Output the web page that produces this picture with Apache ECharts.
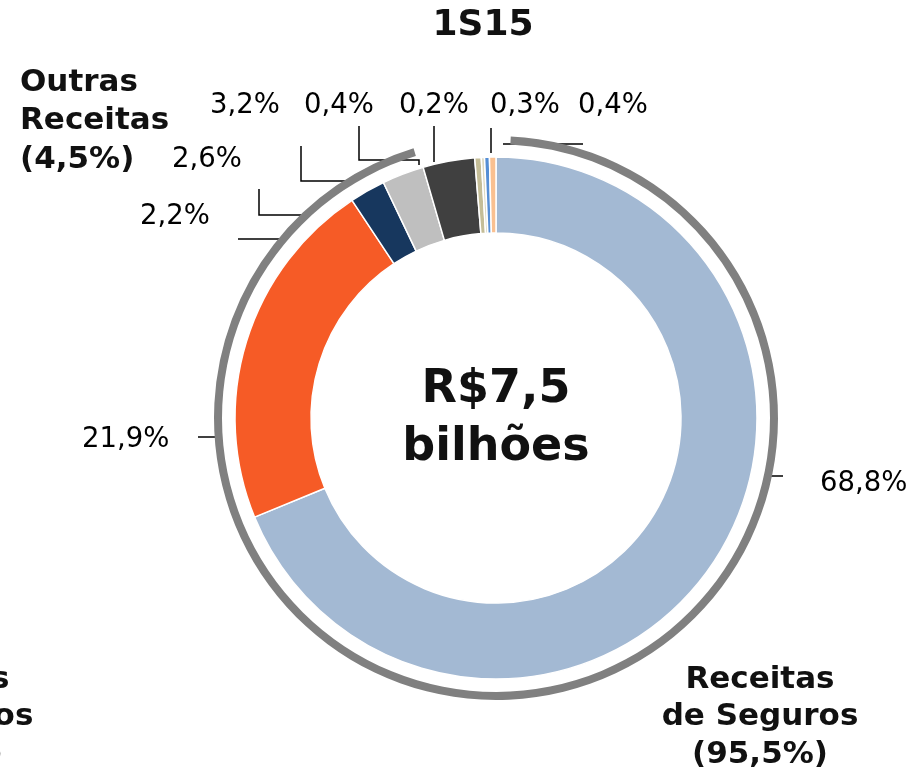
<!DOCTYPE html>
<html><head><meta charset="utf-8">
<script src="https://cdn.jsdelivr.net/npm/echarts@6/dist/echarts.min.js"></script>
<style>html,body{margin:0;padding:0;background:#fff}#c{width:921px;height:773px}</style>
</head><body><div id="c"></div>
<script>
// ---------- data ----------
const chartTitle = '1S15';
const centerLines = ['R$7,5', 'bilhões'];
const sliceNames = ['Seguros A', 'Seguros B', 'Seguros C', 'Seguros D', 'Outras A', 'Outras B', 'Outras C', 'Outras D', 'Outras E'];
const sliceValues = [68.8, 21.9, 2.2, 2.6, 3.2, 0.4, 0.2, 0.3, 0.4];
const sliceGroup = [0, 0, 0, 0, 1, 1, 1, 1, 1];
const groupLabels = ['Receitas\nde Seguros', 'Outras\nReceitas'];
const prevChartLabel = 'Receitas\nde Seguros\n(95,5%)'; // neighbouring chart, cut off at the left edge

// ---------- style / layout ----------
const FONT = 'DejaVu Sans';
const sliceColors = ['#a3b9d3', '#f65b26', '#17375e', '#bfbfbf', '#404040', '#c4bd97', '#ddd9c3', '#558ed5', '#fac090'];
const labelPos = [[820, 484], [82, 440], [140, 217], [172, 160], [210, 106], [304, 106], [399, 106], [490, 106], [578, 106]];
const leaderLines = [
  [[767, 476], [783, 476]],
  [[198, 437], [215, 437]],
  [[238, 239], [280, 239]],
  [[259, 189], [259, 215], [303, 215]],
  [[301, 146], [301, 181], [355, 181]],
  [[359, 126], [359, 160], [419, 160], [419, 165]],
  [[434, 126], [434, 162]],
  [[491, 128], [491, 153]],
  [[503, 144], [583, 144]]
];

const fmt = v => v.toFixed(1).replace('.', ',') + '%';
const groupTotals = groupLabels.map((_, g) => sliceValues.reduce((s, v, i) => s + (sliceGroup[i] === g ? v : 0), 0));

const chart = echarts.init(document.getElementById('c'), null, { renderer: 'canvas' });

const graphics = [];
graphics.push({
  type: 'text', x: 483, y: 26,
  style: { text: chartTitle, font: 'bold 36px "' + FONT + '"', fill: '#111', align: 'center', verticalAlign: 'middle' }
});
graphics.push({
  type: 'text', x: 496, y: 419,
  style: { text: centerLines.join('\n'), font: 'bold 46px "' + FONT + '"', lineHeight: 58, fill: '#111', align: 'center', verticalAlign: 'middle' }
});
graphics.push({
  type: 'text', x: 20, y: 121,
  style: { text: groupLabels[1] + '\n(' + fmt(groupTotals[1]) + ')', font: 'bold 31px "' + FONT + '"', lineHeight: 38.5, fill: '#111', align: 'left', verticalAlign: 'middle' }
});
graphics.push({
  type: 'text', x: 760, y: 717,
  style: { text: groupLabels[0] + '\n(' + fmt(groupTotals[0]) + ')', font: 'bold 31px "' + FONT + '"', lineHeight: 37.5, fill: '#111', align: 'center', verticalAlign: 'middle' }
});
graphics.push({
  type: 'text', x: -65, y: 717,
  style: { text: prevChartLabel, font: 'bold 31px "' + FONT + '"', lineHeight: 37.5, fill: '#111', align: 'center', verticalAlign: 'middle' }
});
leaderLines.forEach(pts => graphics.push({
  type: 'polyline', shape: { points: pts }, style: { stroke: '#000', lineWidth: 1.5, fill: null }, silent: true
}));

chart.setOption({
  animation: false,
  backgroundColor: '#fff',
  series: [
    {
      type: 'pie',
      center: [496, 418],
      radius: [185, 261],
      startAngle: 90,
      clockwise: true,
      avoidLabelOverlap: false,
      silent: true,
      itemStyle: { borderColor: '#fff', borderWidth: 1.5 },
      label: {
        show: true, position: 'outside',
        formatter: p => fmt(p.value),
        fontFamily: FONT, fontSize: 27.5, color: '#000'
      },
      labelLine: { show: false },
      labelLayout: p => ({ x: labelPos[p.dataIndex][0], y: labelPos[p.dataIndex][1], align: 'left', verticalAlign: 'middle', hideOverlap: false }),
      data: sliceValues.map((v, i) => ({ name: sliceNames[i], value: v, itemStyle: { color: sliceColors[i] } }))
    },
    {
      type: 'pie',
      center: [496, 418],
      radius: [274, 282],
      startAngle: 88.9,
      padAngle: 3.8,
      clockwise: true,
      silent: true,
      label: { show: false },
      labelLine: { show: false },
      itemStyle: { borderWidth: 0 },
      data: groupTotals.map((v, g) => ({ name: groupLabels[g], value: v, itemStyle: { color: g === 0 ? '#808080' : 'rgba(0,0,0,0)' } }))
    }
  ],
  graphic: graphics
});
</script>
</body></html>
